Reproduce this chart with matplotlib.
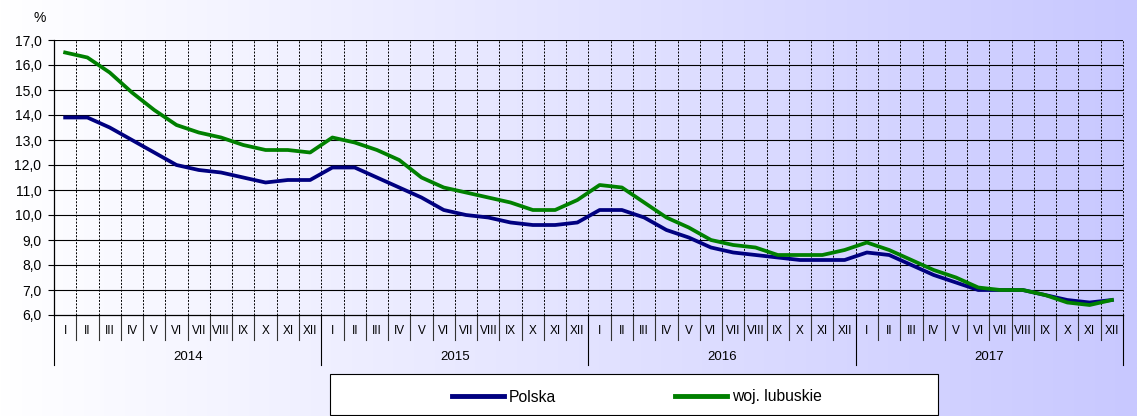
import numpy as np
import matplotlib
matplotlib.use("Agg")
import matplotlib.pyplot as plt
import matplotlib.transforms as mtransforms
from matplotlib.patches import Rectangle

# --- data (stopa bezrobocia, %) ---
years = ["2014", "2015", "2016", "2017"]
months = ["I", "II", "III", "IV", "V", "VI", "VII", "VIII", "IX", "X", "XI", "XII"]

polska = [
    13.9, 13.9, 13.5, 13.0, 12.5, 12.0, 11.8, 11.7, 11.5, 11.3, 11.4, 11.4,
    11.9, 11.9, 11.5, 11.1, 10.7, 10.2, 10.0, 9.9, 9.7, 9.6, 9.6, 9.7,
    10.2, 10.2, 9.9, 9.4, 9.1, 8.7, 8.5, 8.4, 8.3, 8.2, 8.2, 8.2,
    8.5, 8.4, 8.0, 7.6, 7.3, 7.0, 7.0, 7.0, 6.8, 6.6, 6.5, 6.6,
]
lubuskie = [
    16.5, 16.3, 15.7, 14.9, 14.2, 13.6, 13.3, 13.1, 12.8, 12.6, 12.6, 12.5,
    13.1, 12.9, 12.6, 12.2, 11.5, 11.1, 10.9, 10.7, 10.5, 10.2, 10.2, 10.6,
    11.2, 11.1, 10.5, 9.9, 9.5, 9.0, 8.8, 8.7, 8.4, 8.4, 8.4, 8.6,
    8.9, 8.6, 8.2, 7.8, 7.5, 7.1, 7.0, 7.0, 6.8, 6.5, 6.4, 6.6,
]
series_names = ["Polska", "woj. lubuskie"]
series_colors = ["#000080", "#008000"]

FONT = ["Liberation Sans", "DejaVu Sans"]
plt.rcParams["font.family"] = FONT

W, H = 1137, 416
fig = plt.figure(figsize=(W / 100, H / 100), dpi=100)

# background gradient: white -> lavender
bg = fig.add_axes([0, 0, 1, 1], zorder=0)
t = np.linspace(0, 1, 512)
grad = np.zeros((2, 512, 3))
grad[:, :, 0] = 1 - t * (55 / 255)
grad[:, :, 1] = 1 - t * (55 / 255)
grad[:, :, 2] = 1.0
bg.imshow(grad, aspect="auto", extent=[0, 1, 0, 1])
bg.axis("off")

# legend box (drawn on the background layer)
bg.add_patch(Rectangle((330 / W, 1 / H), (938 - 330) / W, (415 - 374) / H,
                       transform=fig.transFigure, facecolor="white",
                       edgecolor="#000000", lw=0.8, zorder=2))

# --- main plot area ---
left, right, top, bottom = 54, 1123, 40, 315
ax = fig.add_axes([left / W, (H - bottom) / H, (right - left) / W, (bottom - top) / H], zorder=1)
ax.patch.set_alpha(0)

n = len(polska)
x = np.arange(n)
for vals, name, col in zip([polska, lubuskie], series_names, series_colors):
    ax.plot(x, vals, color=col, lw=2.7, label=name, solid_joinstyle="round", zorder=3)

ax.set_xlim(-0.5, n - 0.5)
ax.set_ylim(6, 17)
ax.set_yticks(np.arange(6, 17.1, 1))
ax.set_yticklabels([f"{v:.1f}".replace(".", ",") for v in np.arange(6, 17.1, 1)], fontsize=10)
ax.tick_params(axis="y", length=4, width=0.8, direction="out", pad=5)
ax.set_xticks([])

# grid: horizontal solid, vertical dashed at month boundaries
for v in range(7, 18):
    ax.axhline(v, color="#000000", lw=0.8, zorder=1)
for b in np.arange(0.5, n + 0.5, 1):
    ax.axvline(b, color="#000000", lw=0.7, ls=(0, (2, 1.5)), zorder=1, clip_on=False)

for s in ["top", "right"]:
    ax.spines[s].set_visible(False)
ax.spines["left"].set_linewidth(0.9)
ax.spines["bottom"].set_linewidth(0.9)

# --- category axis (months + years) ---
trans = mtransforms.blended_transform_factory(ax.transData, ax.transAxes)
px = 1.0 / (bottom - top)  # one pixel in axes fraction
for i in range(n + 1):
    b = i - 0.5
    is_year = i % 12 == 0
    depth = 50 if is_year else 25
    ax.plot([b, b], [0, -depth * px], transform=trans, color="#000000" if is_year else "#333333",
            lw=0.8, clip_on=False)
for i in range(n):
    ax.text(i, -16 * px, months[i % 12], transform=trans, ha="center", va="center",
            fontsize=8.5)
for k, yr in enumerate(years):
    ax.text(k * 12 + 5.5, -42 * px, yr, transform=trans, ha="center", va="center",
            fontsize=9.5)

fig.text(40 / W, 1 - 18 / H, "%", ha="center", va="center", fontsize=10)

# --- legend ---
leg = ax.legend(loc="center", bbox_to_anchor=(637 / W, 1 - 397 / H), bbox_transform=fig.transFigure,
                ncol=2, frameon=False, handlelength=3.3, handletextpad=0.32,
                columnspacing=7.6, prop={"family": FONT, "size": 11.3})
for line in leg.get_lines():
    line.set_linewidth(3.5)

fig.savefig("out.png", dpi=100)
